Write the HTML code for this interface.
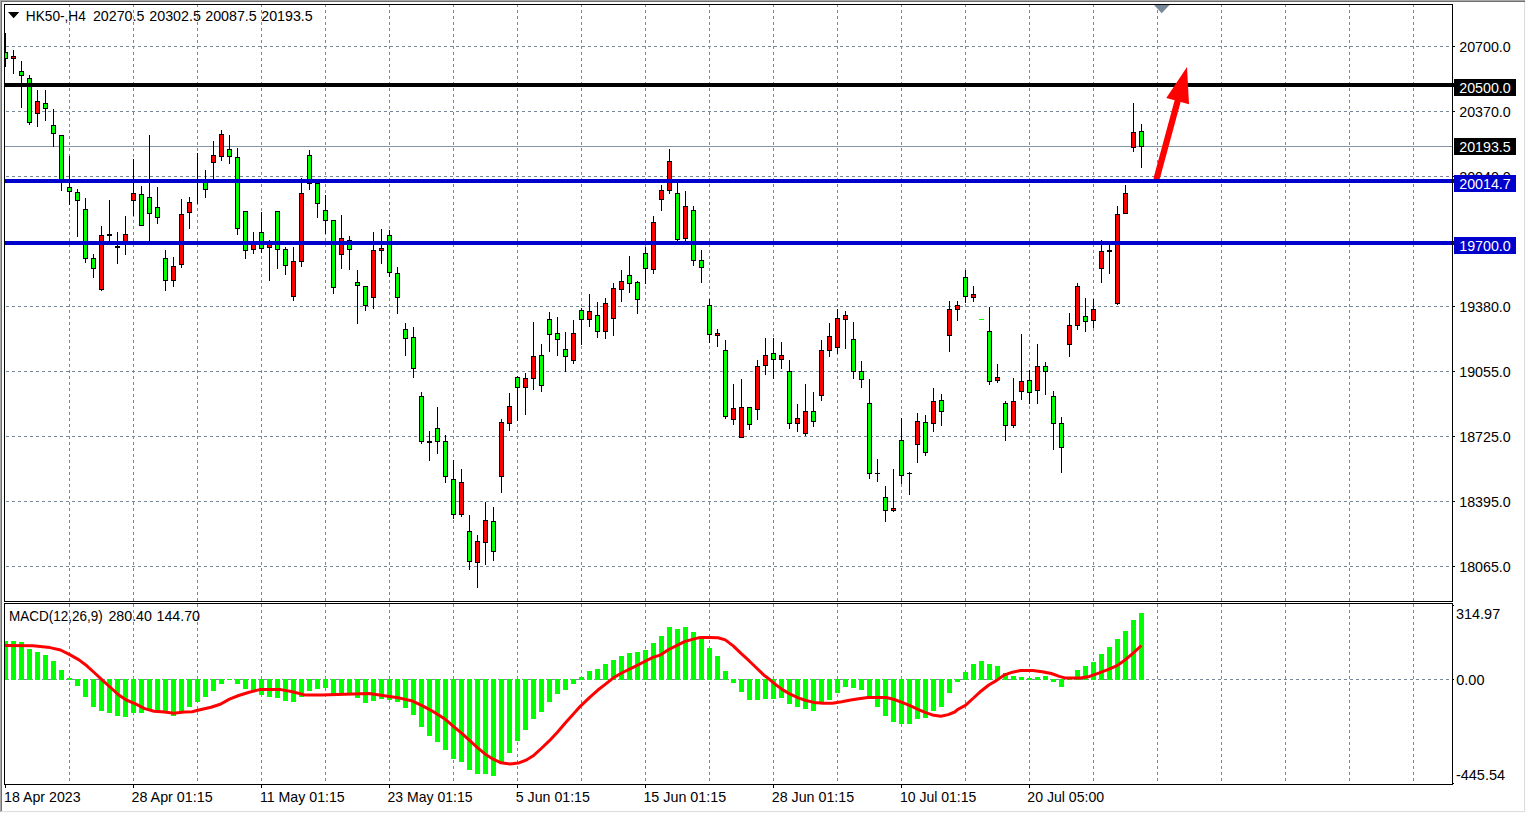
<!DOCTYPE html>
<html><head><meta charset="utf-8"><title>HK50-,H4</title>
<style>
html,body{margin:0;padding:0;background:#fff;overflow:hidden}
body{width:1526px;height:813px;font-family:"Liberation Sans",sans-serif}
svg{display:block}
</style></head><body>
<svg width="1526" height="813" viewBox="0 0 1526 813"><rect x="0" y="0" width="1526" height="813" fill="#ffffff"/>
<rect x="0" y="0" width="1526" height="1" fill="#a9a9a9"/>
<rect x="0" y="1" width="1526" height="1" fill="#6f6f6f"/>
<rect x="0" y="0" width="1" height="812" fill="#a9a9a9"/>
<rect x="1" y="1" width="1" height="810" fill="#6f6f6f"/>
<rect x="1524" y="2" width="1" height="810" fill="#dedede"/>
<rect x="1525" y="0" width="1" height="813" fill="#fafafa"/>
<rect x="1" y="811" width="1524" height="1" fill="#dedede"/>
<rect x="0" y="812" width="1526" height="1" fill="#fcfcfc"/>
<g stroke="#778899" stroke-width="1" stroke-dasharray="3 3" fill="none">
<path d="M69.5 4V602"/>
<path d="M69.5 604V784"/>
<path d="M133.5 4V602"/>
<path d="M133.5 604V784"/>
<path d="M197.5 4V602"/>
<path d="M197.5 604V784"/>
<path d="M261.5 4V602"/>
<path d="M261.5 604V784"/>
<path d="M325.5 4V602"/>
<path d="M325.5 604V784"/>
<path d="M389.5 4V602"/>
<path d="M389.5 604V784"/>
<path d="M453.5 4V602"/>
<path d="M453.5 604V784"/>
<path d="M517.5 4V602"/>
<path d="M517.5 604V784"/>
<path d="M581.5 4V602"/>
<path d="M581.5 604V784"/>
<path d="M645.5 4V602"/>
<path d="M645.5 604V784"/>
<path d="M709.5 4V602"/>
<path d="M709.5 604V784"/>
<path d="M773.5 4V602"/>
<path d="M773.5 604V784"/>
<path d="M837.5 4V602"/>
<path d="M837.5 604V784"/>
<path d="M901.5 4V602"/>
<path d="M901.5 604V784"/>
<path d="M965.5 4V602"/>
<path d="M965.5 604V784"/>
<path d="M1029.5 4V602"/>
<path d="M1029.5 604V784"/>
<path d="M1093.5 4V602"/>
<path d="M1093.5 604V784"/>
<path d="M1157.5 4V602"/>
<path d="M1157.5 604V784"/>
<path d="M1221.5 4V602"/>
<path d="M1221.5 604V784"/>
<path d="M1285.5 4V602"/>
<path d="M1285.5 604V784"/>
<path d="M1349.5 4V602"/>
<path d="M1349.5 604V784"/>
<path d="M1413.5 4V602"/>
<path d="M1413.5 604V784"/>
<path d="M6 46.5H1452"/>
<path d="M6 111.5H1452"/>
<path d="M6 176.5H1452"/>
<path d="M6 241.5H1452"/>
<path d="M6 306.5H1452"/>
<path d="M6 371.5H1452"/>
<path d="M6 436.5H1452"/>
<path d="M6 501.5H1452"/>
<path d="M6 566.5H1452"/>
<path d="M6 679.5H1452"/>
</g>
<rect x="5" y="146" width="1447" height="1" fill="#8494a4"/>
<g fill="#00ff00">
<rect x="5" y="641" width="3" height="39"/>
<rect x="11" y="641" width="5" height="39"/>
<rect x="19" y="642" width="5" height="38"/>
<rect x="27" y="649" width="5" height="31"/>
<rect x="35" y="652" width="5" height="28"/>
<rect x="43" y="655" width="5" height="25"/>
<rect x="51" y="661" width="5" height="19"/>
<rect x="59" y="670" width="5" height="10"/>
<rect x="67" y="678" width="5" height="2"/>
<rect x="75" y="679" width="5" height="7"/>
<rect x="83" y="679" width="5" height="18"/>
<rect x="91" y="679" width="5" height="28"/>
<rect x="99" y="679" width="5" height="32"/>
<rect x="107" y="679" width="5" height="34"/>
<rect x="115" y="679" width="5" height="37"/>
<rect x="123" y="679" width="5" height="38"/>
<rect x="131" y="679" width="5" height="34"/>
<rect x="139" y="679" width="5" height="34"/>
<rect x="147" y="679" width="5" height="32"/>
<rect x="155" y="679" width="5" height="32"/>
<rect x="163" y="679" width="5" height="33"/>
<rect x="171" y="679" width="5" height="37"/>
<rect x="179" y="679" width="5" height="33"/>
<rect x="187" y="679" width="5" height="28"/>
<rect x="195" y="679" width="5" height="23"/>
<rect x="203" y="679" width="5" height="18"/>
<rect x="211" y="679" width="5" height="12"/>
<rect x="219" y="679" width="5" height="5"/>
<rect x="227" y="679" width="5" height="1"/>
<rect x="235" y="679" width="5" height="5"/>
<rect x="243" y="679" width="5" height="10"/>
<rect x="251" y="679" width="5" height="11"/>
<rect x="259" y="679" width="5" height="16"/>
<rect x="267" y="679" width="5" height="18"/>
<rect x="275" y="679" width="5" height="19"/>
<rect x="283" y="679" width="5" height="22"/>
<rect x="291" y="679" width="5" height="23"/>
<rect x="299" y="679" width="5" height="18"/>
<rect x="307" y="679" width="5" height="12"/>
<rect x="315" y="679" width="5" height="10"/>
<rect x="323" y="679" width="5" height="9"/>
<rect x="331" y="679" width="5" height="15"/>
<rect x="339" y="679" width="5" height="15"/>
<rect x="347" y="679" width="5" height="14"/>
<rect x="355" y="679" width="5" height="19"/>
<rect x="363" y="679" width="5" height="24"/>
<rect x="371" y="679" width="5" height="22"/>
<rect x="379" y="679" width="5" height="20"/>
<rect x="387" y="679" width="5" height="21"/>
<rect x="395" y="679" width="5" height="23"/>
<rect x="403" y="679" width="5" height="29"/>
<rect x="411" y="679" width="5" height="36"/>
<rect x="419" y="679" width="5" height="48"/>
<rect x="427" y="679" width="5" height="57"/>
<rect x="435" y="679" width="5" height="63"/>
<rect x="443" y="679" width="5" height="71"/>
<rect x="451" y="679" width="5" height="80"/>
<rect x="459" y="679" width="5" height="83"/>
<rect x="467" y="679" width="5" height="91"/>
<rect x="475" y="679" width="5" height="95"/>
<rect x="483" y="679" width="5" height="95"/>
<rect x="491" y="679" width="5" height="97"/>
<rect x="499" y="679" width="5" height="84"/>
<rect x="507" y="679" width="5" height="74"/>
<rect x="515" y="679" width="5" height="62"/>
<rect x="523" y="679" width="5" height="51"/>
<rect x="531" y="679" width="5" height="40"/>
<rect x="539" y="679" width="5" height="33"/>
<rect x="547" y="679" width="5" height="23"/>
<rect x="555" y="679" width="5" height="15"/>
<rect x="563" y="679" width="5" height="11"/>
<rect x="571" y="679" width="5" height="5"/>
<rect x="579" y="677" width="5" height="3"/>
<rect x="587" y="671" width="5" height="9"/>
<rect x="595" y="669" width="5" height="11"/>
<rect x="603" y="664" width="5" height="16"/>
<rect x="611" y="660" width="5" height="20"/>
<rect x="619" y="656" width="5" height="24"/>
<rect x="627" y="653" width="5" height="27"/>
<rect x="635" y="652" width="5" height="28"/>
<rect x="643" y="650" width="5" height="30"/>
<rect x="651" y="643" width="5" height="37"/>
<rect x="659" y="636" width="5" height="44"/>
<rect x="667" y="627" width="5" height="53"/>
<rect x="675" y="629" width="5" height="51"/>
<rect x="683" y="627" width="5" height="53"/>
<rect x="691" y="632" width="5" height="48"/>
<rect x="699" y="638" width="5" height="42"/>
<rect x="707" y="648" width="5" height="32"/>
<rect x="715" y="656" width="5" height="24"/>
<rect x="723" y="671" width="5" height="9"/>
<rect x="731" y="679" width="5" height="4"/>
<rect x="739" y="679" width="5" height="13"/>
<rect x="747" y="679" width="5" height="21"/>
<rect x="755" y="679" width="5" height="21"/>
<rect x="763" y="679" width="5" height="20"/>
<rect x="771" y="679" width="5" height="20"/>
<rect x="779" y="679" width="5" height="19"/>
<rect x="787" y="679" width="5" height="25"/>
<rect x="795" y="679" width="5" height="28"/>
<rect x="803" y="679" width="5" height="30"/>
<rect x="811" y="679" width="5" height="32"/>
<rect x="819" y="679" width="5" height="23"/>
<rect x="827" y="679" width="5" height="21"/>
<rect x="835" y="679" width="5" height="14"/>
<rect x="843" y="679" width="5" height="8"/>
<rect x="851" y="679" width="5" height="9"/>
<rect x="859" y="679" width="5" height="11"/>
<rect x="867" y="679" width="5" height="19"/>
<rect x="875" y="679" width="5" height="28"/>
<rect x="883" y="679" width="5" height="37"/>
<rect x="891" y="679" width="5" height="43"/>
<rect x="899" y="679" width="5" height="45"/>
<rect x="907" y="679" width="5" height="45"/>
<rect x="915" y="679" width="5" height="40"/>
<rect x="923" y="679" width="5" height="39"/>
<rect x="931" y="679" width="5" height="32"/>
<rect x="939" y="679" width="5" height="28"/>
<rect x="947" y="679" width="5" height="14"/>
<rect x="955" y="679" width="5" height="3"/>
<rect x="963" y="672" width="5" height="8"/>
<rect x="971" y="664" width="5" height="16"/>
<rect x="979" y="661" width="5" height="19"/>
<rect x="987" y="664" width="5" height="16"/>
<rect x="995" y="666" width="5" height="14"/>
<rect x="1003" y="673" width="5" height="7"/>
<rect x="1011" y="676" width="5" height="4"/>
<rect x="1019" y="677" width="5" height="3"/>
<rect x="1027" y="678" width="5" height="2"/>
<rect x="1035" y="677" width="5" height="3"/>
<rect x="1043" y="676" width="5" height="4"/>
<rect x="1051" y="679" width="5" height="3"/>
<rect x="1059" y="679" width="5" height="8"/>
<rect x="1067" y="678" width="5" height="2"/>
<rect x="1075" y="670" width="5" height="10"/>
<rect x="1083" y="666" width="5" height="14"/>
<rect x="1091" y="662" width="5" height="18"/>
<rect x="1099" y="654" width="5" height="26"/>
<rect x="1107" y="647" width="5" height="33"/>
<rect x="1115" y="639" width="5" height="41"/>
<rect x="1123" y="631" width="5" height="49"/>
<rect x="1131" y="620" width="5" height="60"/>
<rect x="1139" y="613" width="5" height="67"/>
</g>
<polyline points="5.0,645.4 33.0,645.7 50.0,647.6 60.5,650.0 69.7,654.6 79.0,659.9 86.8,665.8 94.7,673.0 102.6,680.3 110.5,687.5 118.4,694.7 126.3,700.0 135.5,703.9 144.7,708.6 154.0,711.2 164.5,712.1 173.7,713.2 184.2,712.1 192.1,711.8 197.9,710.3 211.0,707.2 220.3,704.3 229.5,699.1 238.7,695.5 249.2,692.2 259.7,689.6 280.8,689.6 292.6,691.8 304.5,694.9 321.6,695.1 345.3,694.2 369.0,693.4 379.5,695.1 389.5,696.6 399.7,698.1 411.6,700.7 422.1,705.6 432.6,711.2 444.5,718.7 453.7,726.6 461.6,733.2 469.5,740.4 477.4,747.7 485.3,754.2 493.2,759.2 501.0,762.8 510.3,764.1 518.2,763.1 526.0,760.2 534.0,755.2 541.8,748.0 549.7,740.4 557.6,731.9 565.5,722.7 573.4,714.1 580.5,706.1 589.7,697.3 597.6,690.3 605.5,684.1 613.4,677.8 622.6,672.5 633.2,667.3 643.7,662.0 652.9,657.4 660.8,654.8 668.7,649.5 676.6,645.6 684.5,641.6 692.4,639.4 700.3,637.4 709.5,637.4 718.0,637.7 725.3,639.9 733.2,645.9 741.0,653.4 749.0,660.7 756.8,668.3 764.7,675.8 770.0,679.8 774.5,683.7 782.4,689.6 790.3,694.2 798.2,697.9 806.0,700.5 814.0,702.4 823.2,703.2 832.4,703.2 841.6,701.8 850.8,700.1 858.7,698.8 867.9,697.5 886.3,697.5 894.2,699.5 902.1,702.4 910.0,705.7 917.9,709.3 925.8,712.6 933.7,715.3 940.9,716.3 948.2,714.6 954.7,712.0 957.9,709.3 965.4,705.4 973.0,698.5 980.9,691.2 988.8,685.0 996.7,680.4 1004.6,674.8 1012.5,672.2 1020.4,670.5 1032.9,670.5 1042.1,671.8 1051.3,673.5 1059.2,676.4 1065.8,678.1 1080.3,678.1 1089.5,676.4 1098.7,673.1 1107.9,669.6 1117.1,665.6 1125.0,660.0 1132.9,653.4 1141.4,645.5" fill="none" stroke="#ff0000" stroke-width="3" stroke-linejoin="round" stroke-linecap="butt"/>
<g shape-rendering="crispEdges">
<rect x="5" y="33" width="1" height="34" fill="#000"/>
<rect x="5" y="52" width="3" height="7" fill="#000"/>
<rect x="5" y="53" width="2" height="5" fill="#00ff00"/>
<rect x="13" y="50" width="1" height="24" fill="#000"/>
<rect x="11" y="56" width="5" height="3" fill="#000"/>
<rect x="12" y="57" width="3" height="1" fill="#ff0000"/>
<rect x="21" y="61" width="1" height="47" fill="#000"/>
<rect x="19" y="71" width="5" height="5" fill="#000"/>
<rect x="20" y="72" width="3" height="3" fill="#00ff00"/>
<rect x="29" y="75" width="1" height="50" fill="#000"/>
<rect x="27" y="78" width="5" height="45" fill="#000"/>
<rect x="28" y="79" width="3" height="43" fill="#00ff00"/>
<rect x="37" y="90" width="1" height="37" fill="#000"/>
<rect x="35" y="101" width="5" height="13" fill="#000"/>
<rect x="36" y="102" width="3" height="11" fill="#ff0000"/>
<rect x="45" y="90" width="1" height="31" fill="#000"/>
<rect x="43" y="103" width="5" height="6" fill="#000"/>
<rect x="44" y="104" width="3" height="4" fill="#00ff00"/>
<rect x="53" y="109" width="1" height="38" fill="#000"/>
<rect x="51" y="125" width="5" height="9" fill="#000"/>
<rect x="52" y="126" width="3" height="7" fill="#00ff00"/>
<rect x="61" y="135" width="1" height="56" fill="#000"/>
<rect x="59" y="135" width="5" height="48" fill="#000"/>
<rect x="60" y="136" width="3" height="46" fill="#00ff00"/>
<rect x="69" y="156" width="1" height="49" fill="#000"/>
<rect x="67" y="187" width="5" height="5" fill="#000"/>
<rect x="68" y="188" width="3" height="3" fill="#00ff00"/>
<rect x="77" y="189" width="1" height="48" fill="#000"/>
<rect x="75" y="192" width="5" height="9" fill="#000"/>
<rect x="76" y="193" width="3" height="7" fill="#00ff00"/>
<rect x="85" y="198" width="1" height="65" fill="#000"/>
<rect x="83" y="209" width="5" height="50" fill="#000"/>
<rect x="84" y="210" width="3" height="48" fill="#00ff00"/>
<rect x="93" y="254" width="1" height="24" fill="#000"/>
<rect x="91" y="258" width="5" height="11" fill="#000"/>
<rect x="92" y="259" width="3" height="9" fill="#00ff00"/>
<rect x="101" y="226" width="1" height="65" fill="#000"/>
<rect x="99" y="235" width="5" height="55" fill="#000"/>
<rect x="100" y="236" width="3" height="53" fill="#ff0000"/>
<rect x="109" y="200" width="1" height="41" fill="#000"/>
<rect x="107" y="234" width="5" height="2" fill="#000"/>
<rect x="117" y="232" width="1" height="32" fill="#000"/>
<rect x="115" y="246" width="5" height="2" fill="#000"/>
<rect x="125" y="216" width="1" height="39" fill="#000"/>
<rect x="123" y="234" width="5" height="11" fill="#000"/>
<rect x="124" y="235" width="3" height="9" fill="#ff0000"/>
<rect x="133" y="159" width="1" height="57" fill="#000"/>
<rect x="131" y="193" width="5" height="8" fill="#000"/>
<rect x="132" y="194" width="3" height="6" fill="#ff0000"/>
<rect x="141" y="186" width="1" height="40" fill="#000"/>
<rect x="139" y="194" width="5" height="32" fill="#000"/>
<rect x="140" y="195" width="3" height="30" fill="#00ff00"/>
<rect x="149" y="135" width="1" height="106" fill="#000"/>
<rect x="147" y="197" width="5" height="17" fill="#000"/>
<rect x="148" y="198" width="3" height="15" fill="#00ff00"/>
<rect x="157" y="187" width="1" height="37" fill="#000"/>
<rect x="155" y="207" width="5" height="11" fill="#000"/>
<rect x="156" y="208" width="3" height="9" fill="#00ff00"/>
<rect x="165" y="250" width="1" height="41" fill="#000"/>
<rect x="163" y="258" width="5" height="23" fill="#000"/>
<rect x="164" y="259" width="3" height="21" fill="#00ff00"/>
<rect x="173" y="257" width="1" height="30" fill="#000"/>
<rect x="171" y="266" width="5" height="15" fill="#000"/>
<rect x="172" y="267" width="3" height="13" fill="#ff0000"/>
<rect x="181" y="199" width="1" height="69" fill="#000"/>
<rect x="179" y="214" width="5" height="51" fill="#000"/>
<rect x="180" y="215" width="3" height="49" fill="#ff0000"/>
<rect x="189" y="197" width="1" height="32" fill="#000"/>
<rect x="187" y="202" width="5" height="11" fill="#000"/>
<rect x="188" y="203" width="3" height="9" fill="#ff0000"/>
<rect x="197" y="153" width="1" height="51" fill="#000"/>
<rect x="205" y="170" width="1" height="28" fill="#000"/>
<rect x="203" y="181" width="5" height="9" fill="#000"/>
<rect x="204" y="182" width="3" height="7" fill="#00ff00"/>
<rect x="213" y="141" width="1" height="40" fill="#000"/>
<rect x="211" y="155" width="5" height="8" fill="#000"/>
<rect x="212" y="156" width="3" height="6" fill="#ff0000"/>
<rect x="221" y="130" width="1" height="31" fill="#000"/>
<rect x="219" y="134" width="5" height="23" fill="#000"/>
<rect x="220" y="135" width="3" height="21" fill="#ff0000"/>
<rect x="229" y="135" width="1" height="29" fill="#000"/>
<rect x="227" y="149" width="5" height="8" fill="#000"/>
<rect x="228" y="150" width="3" height="6" fill="#00ff00"/>
<rect x="237" y="148" width="1" height="87" fill="#000"/>
<rect x="235" y="157" width="5" height="72" fill="#000"/>
<rect x="236" y="158" width="3" height="70" fill="#00ff00"/>
<rect x="245" y="211" width="1" height="48" fill="#000"/>
<rect x="243" y="211" width="5" height="40" fill="#000"/>
<rect x="244" y="212" width="3" height="38" fill="#00ff00"/>
<rect x="253" y="232" width="1" height="22" fill="#000"/>
<rect x="251" y="243" width="5" height="7" fill="#000"/>
<rect x="252" y="244" width="3" height="5" fill="#ff0000"/>
<rect x="261" y="212" width="1" height="41" fill="#000"/>
<rect x="259" y="232" width="5" height="17" fill="#000"/>
<rect x="260" y="233" width="3" height="15" fill="#00ff00"/>
<rect x="269" y="240" width="1" height="41" fill="#000"/>
<rect x="267" y="243" width="5" height="5" fill="#000"/>
<rect x="268" y="244" width="3" height="3" fill="#ff0000"/>
<rect x="277" y="211" width="1" height="58" fill="#000"/>
<rect x="275" y="211" width="5" height="39" fill="#000"/>
<rect x="276" y="212" width="3" height="37" fill="#00ff00"/>
<rect x="285" y="247" width="1" height="28" fill="#000"/>
<rect x="283" y="249" width="5" height="17" fill="#000"/>
<rect x="284" y="250" width="3" height="15" fill="#00ff00"/>
<rect x="293" y="247" width="1" height="54" fill="#000"/>
<rect x="291" y="261" width="5" height="36" fill="#000"/>
<rect x="292" y="262" width="3" height="34" fill="#ff0000"/>
<rect x="301" y="178" width="1" height="89" fill="#000"/>
<rect x="299" y="193" width="5" height="69" fill="#000"/>
<rect x="300" y="194" width="3" height="67" fill="#ff0000"/>
<rect x="309" y="150" width="1" height="40" fill="#000"/>
<rect x="307" y="155" width="5" height="29" fill="#000"/>
<rect x="308" y="156" width="3" height="27" fill="#00ff00"/>
<rect x="317" y="183" width="1" height="35" fill="#000"/>
<rect x="315" y="183" width="5" height="21" fill="#000"/>
<rect x="316" y="184" width="3" height="19" fill="#00ff00"/>
<rect x="325" y="195" width="1" height="39" fill="#000"/>
<rect x="323" y="210" width="5" height="11" fill="#000"/>
<rect x="324" y="211" width="3" height="9" fill="#00ff00"/>
<rect x="333" y="220" width="1" height="74" fill="#000"/>
<rect x="331" y="220" width="5" height="68" fill="#000"/>
<rect x="332" y="221" width="3" height="66" fill="#00ff00"/>
<rect x="341" y="215" width="1" height="54" fill="#000"/>
<rect x="339" y="238" width="5" height="17" fill="#000"/>
<rect x="340" y="239" width="3" height="15" fill="#ff0000"/>
<rect x="349" y="236" width="1" height="34" fill="#000"/>
<rect x="347" y="240" width="5" height="10" fill="#000"/>
<rect x="348" y="241" width="3" height="8" fill="#00ff00"/>
<rect x="357" y="270" width="1" height="54" fill="#000"/>
<rect x="355" y="282" width="5" height="4" fill="#000"/>
<rect x="356" y="283" width="3" height="2" fill="#00ff00"/>
<rect x="365" y="286" width="1" height="25" fill="#000"/>
<rect x="363" y="286" width="5" height="20" fill="#000"/>
<rect x="364" y="287" width="3" height="18" fill="#00ff00"/>
<rect x="373" y="232" width="1" height="77" fill="#000"/>
<rect x="371" y="250" width="5" height="48" fill="#000"/>
<rect x="372" y="251" width="3" height="46" fill="#ff0000"/>
<rect x="381" y="229" width="1" height="35" fill="#000"/>
<rect x="379" y="248" width="5" height="3" fill="#000"/>
<rect x="380" y="249" width="3" height="1" fill="#ff0000"/>
<rect x="389" y="230" width="1" height="47" fill="#000"/>
<rect x="387" y="235" width="5" height="38" fill="#000"/>
<rect x="388" y="236" width="3" height="36" fill="#00ff00"/>
<rect x="397" y="267" width="1" height="47" fill="#000"/>
<rect x="395" y="273" width="5" height="25" fill="#000"/>
<rect x="396" y="274" width="3" height="23" fill="#00ff00"/>
<rect x="405" y="323" width="1" height="33" fill="#000"/>
<rect x="403" y="329" width="5" height="10" fill="#000"/>
<rect x="404" y="330" width="3" height="8" fill="#00ff00"/>
<rect x="413" y="327" width="1" height="51" fill="#000"/>
<rect x="411" y="337" width="5" height="32" fill="#000"/>
<rect x="412" y="338" width="3" height="30" fill="#00ff00"/>
<rect x="421" y="392" width="1" height="52" fill="#000"/>
<rect x="419" y="396" width="5" height="46" fill="#000"/>
<rect x="420" y="397" width="3" height="44" fill="#00ff00"/>
<rect x="429" y="431" width="1" height="30" fill="#000"/>
<rect x="427" y="441" width="5" height="2" fill="#000"/>
<rect x="437" y="407" width="1" height="47" fill="#000"/>
<rect x="435" y="428" width="5" height="14" fill="#000"/>
<rect x="436" y="429" width="3" height="12" fill="#00ff00"/>
<rect x="445" y="435" width="1" height="48" fill="#000"/>
<rect x="443" y="441" width="5" height="36" fill="#000"/>
<rect x="444" y="442" width="3" height="34" fill="#00ff00"/>
<rect x="453" y="460" width="1" height="59" fill="#000"/>
<rect x="451" y="479" width="5" height="36" fill="#000"/>
<rect x="452" y="480" width="3" height="34" fill="#00ff00"/>
<rect x="461" y="469" width="1" height="48" fill="#000"/>
<rect x="459" y="482" width="5" height="33" fill="#000"/>
<rect x="460" y="483" width="3" height="31" fill="#ff0000"/>
<rect x="469" y="515" width="1" height="55" fill="#000"/>
<rect x="467" y="531" width="5" height="31" fill="#000"/>
<rect x="468" y="532" width="3" height="29" fill="#00ff00"/>
<rect x="477" y="535" width="1" height="53" fill="#000"/>
<rect x="475" y="541" width="5" height="22" fill="#000"/>
<rect x="476" y="542" width="3" height="20" fill="#ff0000"/>
<rect x="485" y="502" width="1" height="63" fill="#000"/>
<rect x="483" y="520" width="5" height="23" fill="#000"/>
<rect x="484" y="521" width="3" height="21" fill="#ff0000"/>
<rect x="493" y="507" width="1" height="54" fill="#000"/>
<rect x="491" y="521" width="5" height="31" fill="#000"/>
<rect x="492" y="522" width="3" height="29" fill="#00ff00"/>
<rect x="501" y="419" width="1" height="74" fill="#000"/>
<rect x="499" y="422" width="5" height="55" fill="#000"/>
<rect x="500" y="423" width="3" height="53" fill="#ff0000"/>
<rect x="509" y="393" width="1" height="38" fill="#000"/>
<rect x="507" y="406" width="5" height="18" fill="#000"/>
<rect x="508" y="407" width="3" height="16" fill="#ff0000"/>
<rect x="517" y="376" width="1" height="45" fill="#000"/>
<rect x="515" y="377" width="5" height="11" fill="#000"/>
<rect x="516" y="378" width="3" height="9" fill="#00ff00"/>
<rect x="525" y="373" width="1" height="42" fill="#000"/>
<rect x="523" y="378" width="5" height="10" fill="#000"/>
<rect x="524" y="379" width="3" height="8" fill="#ff0000"/>
<rect x="533" y="322" width="1" height="68" fill="#000"/>
<rect x="531" y="356" width="5" height="23" fill="#000"/>
<rect x="532" y="357" width="3" height="21" fill="#ff0000"/>
<rect x="541" y="344" width="1" height="48" fill="#000"/>
<rect x="539" y="355" width="5" height="31" fill="#000"/>
<rect x="540" y="356" width="3" height="29" fill="#00ff00"/>
<rect x="549" y="312" width="1" height="40" fill="#000"/>
<rect x="547" y="319" width="5" height="16" fill="#000"/>
<rect x="548" y="320" width="3" height="14" fill="#00ff00"/>
<rect x="557" y="317" width="1" height="39" fill="#000"/>
<rect x="555" y="333" width="5" height="7" fill="#000"/>
<rect x="556" y="334" width="3" height="5" fill="#00ff00"/>
<rect x="565" y="332" width="1" height="40" fill="#000"/>
<rect x="563" y="349" width="5" height="8" fill="#000"/>
<rect x="564" y="350" width="3" height="6" fill="#00ff00"/>
<rect x="573" y="320" width="1" height="44" fill="#000"/>
<rect x="571" y="333" width="5" height="28" fill="#000"/>
<rect x="572" y="334" width="3" height="26" fill="#ff0000"/>
<rect x="581" y="308" width="1" height="37" fill="#000"/>
<rect x="579" y="310" width="5" height="10" fill="#000"/>
<rect x="580" y="311" width="3" height="8" fill="#00ff00"/>
<rect x="589" y="294" width="1" height="33" fill="#000"/>
<rect x="587" y="311" width="5" height="9" fill="#000"/>
<rect x="588" y="312" width="3" height="7" fill="#ff0000"/>
<rect x="597" y="302" width="1" height="36" fill="#000"/>
<rect x="595" y="315" width="5" height="17" fill="#000"/>
<rect x="596" y="316" width="3" height="15" fill="#00ff00"/>
<rect x="605" y="298" width="1" height="41" fill="#000"/>
<rect x="603" y="303" width="5" height="29" fill="#000"/>
<rect x="604" y="304" width="3" height="27" fill="#ff0000"/>
<rect x="613" y="283" width="1" height="53" fill="#000"/>
<rect x="611" y="288" width="5" height="31" fill="#000"/>
<rect x="612" y="289" width="3" height="29" fill="#ff0000"/>
<rect x="621" y="270" width="1" height="32" fill="#000"/>
<rect x="619" y="281" width="5" height="9" fill="#000"/>
<rect x="620" y="282" width="3" height="7" fill="#ff0000"/>
<rect x="629" y="256" width="1" height="37" fill="#000"/>
<rect x="627" y="275" width="5" height="9" fill="#000"/>
<rect x="628" y="276" width="3" height="7" fill="#00ff00"/>
<rect x="637" y="281" width="1" height="33" fill="#000"/>
<rect x="635" y="282" width="5" height="18" fill="#000"/>
<rect x="636" y="283" width="3" height="16" fill="#00ff00"/>
<rect x="645" y="247" width="1" height="37" fill="#000"/>
<rect x="643" y="253" width="5" height="16" fill="#000"/>
<rect x="644" y="254" width="3" height="14" fill="#00ff00"/>
<rect x="653" y="216" width="1" height="58" fill="#000"/>
<rect x="651" y="222" width="5" height="48" fill="#000"/>
<rect x="652" y="223" width="3" height="46" fill="#ff0000"/>
<rect x="661" y="185" width="1" height="26" fill="#000"/>
<rect x="659" y="190" width="5" height="10" fill="#000"/>
<rect x="660" y="191" width="3" height="8" fill="#ff0000"/>
<rect x="669" y="149" width="1" height="45" fill="#000"/>
<rect x="667" y="161" width="5" height="30" fill="#000"/>
<rect x="668" y="162" width="3" height="28" fill="#ff0000"/>
<rect x="677" y="181" width="1" height="61" fill="#000"/>
<rect x="675" y="193" width="5" height="47" fill="#000"/>
<rect x="676" y="194" width="3" height="45" fill="#00ff00"/>
<rect x="685" y="191" width="1" height="51" fill="#000"/>
<rect x="683" y="206" width="5" height="33" fill="#000"/>
<rect x="684" y="207" width="3" height="31" fill="#ff0000"/>
<rect x="693" y="206" width="1" height="60" fill="#000"/>
<rect x="691" y="210" width="5" height="51" fill="#000"/>
<rect x="692" y="211" width="3" height="49" fill="#00ff00"/>
<rect x="701" y="250" width="1" height="33" fill="#000"/>
<rect x="699" y="260" width="5" height="8" fill="#000"/>
<rect x="700" y="261" width="3" height="6" fill="#00ff00"/>
<rect x="709" y="299" width="1" height="44" fill="#000"/>
<rect x="707" y="305" width="5" height="30" fill="#000"/>
<rect x="708" y="306" width="3" height="28" fill="#00ff00"/>
<rect x="717" y="329" width="1" height="18" fill="#000"/>
<rect x="715" y="333" width="5" height="3" fill="#000"/>
<rect x="716" y="334" width="3" height="1" fill="#ff0000"/>
<rect x="725" y="340" width="1" height="79" fill="#000"/>
<rect x="723" y="350" width="5" height="67" fill="#000"/>
<rect x="724" y="351" width="3" height="65" fill="#00ff00"/>
<rect x="733" y="384" width="1" height="41" fill="#000"/>
<rect x="731" y="408" width="5" height="12" fill="#000"/>
<rect x="732" y="409" width="3" height="10" fill="#ff0000"/>
<rect x="741" y="379" width="1" height="59" fill="#000"/>
<rect x="739" y="407" width="5" height="31" fill="#000"/>
<rect x="740" y="408" width="3" height="29" fill="#ff0000"/>
<rect x="749" y="407" width="1" height="23" fill="#000"/>
<rect x="747" y="407" width="5" height="18" fill="#000"/>
<rect x="748" y="408" width="3" height="16" fill="#00ff00"/>
<rect x="757" y="360" width="1" height="60" fill="#000"/>
<rect x="755" y="366" width="5" height="44" fill="#000"/>
<rect x="756" y="367" width="3" height="42" fill="#ff0000"/>
<rect x="765" y="338" width="1" height="37" fill="#000"/>
<rect x="763" y="355" width="5" height="11" fill="#000"/>
<rect x="764" y="356" width="3" height="9" fill="#ff0000"/>
<rect x="773" y="338" width="1" height="41" fill="#000"/>
<rect x="771" y="353" width="5" height="7" fill="#000"/>
<rect x="772" y="354" width="3" height="5" fill="#00ff00"/>
<rect x="781" y="342" width="1" height="27" fill="#000"/>
<rect x="779" y="355" width="5" height="5" fill="#000"/>
<rect x="780" y="356" width="3" height="3" fill="#ff0000"/>
<rect x="789" y="360" width="1" height="69" fill="#000"/>
<rect x="787" y="371" width="5" height="53" fill="#000"/>
<rect x="788" y="372" width="3" height="51" fill="#00ff00"/>
<rect x="797" y="404" width="1" height="28" fill="#000"/>
<rect x="795" y="418" width="5" height="6" fill="#000"/>
<rect x="796" y="419" width="3" height="4" fill="#ff0000"/>
<rect x="805" y="384" width="1" height="52" fill="#000"/>
<rect x="803" y="411" width="5" height="23" fill="#000"/>
<rect x="804" y="412" width="3" height="21" fill="#ff0000"/>
<rect x="813" y="392" width="1" height="35" fill="#000"/>
<rect x="811" y="411" width="5" height="11" fill="#000"/>
<rect x="812" y="412" width="3" height="9" fill="#00ff00"/>
<rect x="821" y="340" width="1" height="61" fill="#000"/>
<rect x="819" y="350" width="5" height="46" fill="#000"/>
<rect x="820" y="351" width="3" height="44" fill="#ff0000"/>
<rect x="829" y="323" width="1" height="34" fill="#000"/>
<rect x="827" y="336" width="5" height="15" fill="#000"/>
<rect x="828" y="337" width="3" height="13" fill="#ff0000"/>
<rect x="837" y="309" width="1" height="45" fill="#000"/>
<rect x="835" y="318" width="5" height="30" fill="#000"/>
<rect x="836" y="319" width="3" height="28" fill="#ff0000"/>
<rect x="845" y="311" width="1" height="38" fill="#000"/>
<rect x="843" y="315" width="5" height="5" fill="#000"/>
<rect x="844" y="316" width="3" height="3" fill="#ff0000"/>
<rect x="853" y="322" width="1" height="57" fill="#000"/>
<rect x="851" y="339" width="5" height="33" fill="#000"/>
<rect x="852" y="340" width="3" height="31" fill="#00ff00"/>
<rect x="861" y="361" width="1" height="27" fill="#000"/>
<rect x="859" y="371" width="5" height="9" fill="#000"/>
<rect x="860" y="372" width="3" height="7" fill="#00ff00"/>
<rect x="869" y="379" width="1" height="100" fill="#000"/>
<rect x="867" y="403" width="5" height="71" fill="#000"/>
<rect x="868" y="404" width="3" height="69" fill="#00ff00"/>
<rect x="877" y="459" width="1" height="23" fill="#000"/>
<rect x="875" y="473" width="5" height="1" fill="#000"/>
<rect x="885" y="486" width="1" height="36" fill="#000"/>
<rect x="883" y="497" width="5" height="14" fill="#000"/>
<rect x="884" y="498" width="3" height="12" fill="#00ff00"/>
<rect x="893" y="469" width="1" height="43" fill="#000"/>
<rect x="891" y="508" width="5" height="3" fill="#000"/>
<rect x="892" y="509" width="3" height="1" fill="#ff0000"/>
<rect x="901" y="418" width="1" height="66" fill="#000"/>
<rect x="899" y="440" width="5" height="36" fill="#000"/>
<rect x="900" y="441" width="3" height="34" fill="#00ff00"/>
<rect x="909" y="472" width="1" height="23" fill="#000"/>
<rect x="907" y="473" width="5" height="1" fill="#000"/>
<rect x="917" y="413" width="1" height="50" fill="#000"/>
<rect x="915" y="421" width="5" height="24" fill="#000"/>
<rect x="916" y="422" width="3" height="22" fill="#ff0000"/>
<rect x="925" y="415" width="1" height="41" fill="#000"/>
<rect x="923" y="422" width="5" height="31" fill="#000"/>
<rect x="924" y="423" width="3" height="29" fill="#00ff00"/>
<rect x="933" y="388" width="1" height="44" fill="#000"/>
<rect x="931" y="401" width="5" height="23" fill="#000"/>
<rect x="932" y="402" width="3" height="21" fill="#ff0000"/>
<rect x="941" y="394" width="1" height="32" fill="#000"/>
<rect x="939" y="400" width="5" height="12" fill="#000"/>
<rect x="940" y="401" width="3" height="10" fill="#00ff00"/>
<rect x="949" y="301" width="1" height="51" fill="#000"/>
<rect x="947" y="309" width="5" height="27" fill="#000"/>
<rect x="948" y="310" width="3" height="25" fill="#ff0000"/>
<rect x="957" y="301" width="1" height="20" fill="#000"/>
<rect x="955" y="305" width="5" height="5" fill="#000"/>
<rect x="956" y="306" width="3" height="3" fill="#ff0000"/>
<rect x="965" y="270" width="1" height="33" fill="#000"/>
<rect x="963" y="277" width="5" height="20" fill="#000"/>
<rect x="964" y="278" width="3" height="18" fill="#00ff00"/>
<rect x="973" y="286" width="1" height="16" fill="#000"/>
<rect x="971" y="294" width="5" height="4" fill="#000"/>
<rect x="972" y="295" width="3" height="2" fill="#ff0000"/>
<rect x="979" y="319" width="5" height="1" fill="#00ff00"/>
<rect x="989" y="307" width="1" height="78" fill="#000"/>
<rect x="987" y="331" width="5" height="51" fill="#000"/>
<rect x="988" y="332" width="3" height="49" fill="#00ff00"/>
<rect x="997" y="364" width="1" height="19" fill="#000"/>
<rect x="995" y="377" width="5" height="4" fill="#000"/>
<rect x="996" y="378" width="3" height="2" fill="#ff0000"/>
<rect x="1005" y="401" width="1" height="40" fill="#000"/>
<rect x="1003" y="403" width="5" height="23" fill="#000"/>
<rect x="1004" y="404" width="3" height="21" fill="#00ff00"/>
<rect x="1013" y="378" width="1" height="50" fill="#000"/>
<rect x="1011" y="401" width="5" height="25" fill="#000"/>
<rect x="1012" y="402" width="3" height="23" fill="#ff0000"/>
<rect x="1021" y="334" width="1" height="66" fill="#000"/>
<rect x="1019" y="381" width="5" height="11" fill="#000"/>
<rect x="1020" y="382" width="3" height="9" fill="#ff0000"/>
<rect x="1029" y="370" width="1" height="34" fill="#000"/>
<rect x="1027" y="380" width="5" height="13" fill="#000"/>
<rect x="1028" y="381" width="3" height="11" fill="#00ff00"/>
<rect x="1037" y="344" width="1" height="60" fill="#000"/>
<rect x="1035" y="366" width="5" height="25" fill="#000"/>
<rect x="1036" y="367" width="3" height="23" fill="#ff0000"/>
<rect x="1045" y="362" width="1" height="33" fill="#000"/>
<rect x="1043" y="366" width="5" height="6" fill="#000"/>
<rect x="1044" y="367" width="3" height="4" fill="#00ff00"/>
<rect x="1053" y="391" width="1" height="59" fill="#000"/>
<rect x="1051" y="396" width="5" height="28" fill="#000"/>
<rect x="1052" y="397" width="3" height="26" fill="#00ff00"/>
<rect x="1061" y="417" width="1" height="56" fill="#000"/>
<rect x="1059" y="423" width="5" height="25" fill="#000"/>
<rect x="1060" y="424" width="3" height="23" fill="#00ff00"/>
<rect x="1069" y="313" width="1" height="44" fill="#000"/>
<rect x="1067" y="325" width="5" height="20" fill="#000"/>
<rect x="1068" y="326" width="3" height="18" fill="#ff0000"/>
<rect x="1077" y="283" width="1" height="47" fill="#000"/>
<rect x="1075" y="286" width="5" height="40" fill="#000"/>
<rect x="1076" y="287" width="3" height="38" fill="#ff0000"/>
<rect x="1085" y="298" width="1" height="34" fill="#000"/>
<rect x="1083" y="316" width="5" height="6" fill="#000"/>
<rect x="1084" y="317" width="3" height="4" fill="#00ff00"/>
<rect x="1093" y="299" width="1" height="29" fill="#000"/>
<rect x="1091" y="309" width="5" height="12" fill="#000"/>
<rect x="1092" y="310" width="3" height="10" fill="#ff0000"/>
<rect x="1101" y="240" width="1" height="43" fill="#000"/>
<rect x="1099" y="251" width="5" height="18" fill="#000"/>
<rect x="1100" y="252" width="3" height="16" fill="#ff0000"/>
<rect x="1109" y="241" width="1" height="33" fill="#000"/>
<rect x="1107" y="250" width="5" height="2" fill="#000"/>
<rect x="1117" y="206" width="1" height="99" fill="#000"/>
<rect x="1115" y="214" width="5" height="90" fill="#000"/>
<rect x="1116" y="215" width="3" height="88" fill="#ff0000"/>
<rect x="1125" y="185" width="1" height="29" fill="#000"/>
<rect x="1123" y="193" width="5" height="21" fill="#000"/>
<rect x="1124" y="194" width="3" height="19" fill="#ff0000"/>
<rect x="1133" y="103" width="1" height="49" fill="#000"/>
<rect x="1131" y="132" width="5" height="16" fill="#000"/>
<rect x="1132" y="133" width="3" height="14" fill="#ff0000"/>
<rect x="1141" y="124" width="1" height="44" fill="#000"/>
<rect x="1139" y="131" width="5" height="16" fill="#000"/>
<rect x="1140" y="132" width="3" height="14" fill="#00ff00"/>
</g>
<rect x="5" y="83" width="1449" height="4" fill="#000"/>
<path d="M1156.9 177.5L1177.4 102" stroke="#ff0000" stroke-width="6.3" stroke-linecap="round" fill="none"/>
<path d="M1187 67L1166.3 98L1189 104.2Z" fill="#ff0000"/>
<rect x="5" y="179" width="1449" height="4" fill="#0000cd"/>
<rect x="5" y="241" width="1449" height="4" fill="#0000cd"/>
<g fill="none" stroke="#000" stroke-width="1" shape-rendering="crispEdges">
<rect x="4.5" y="4.5" width="1448" height="597"/>
<rect x="4.5" y="603.5" width="1448" height="181"/>
</g>
<path d="M1154 5H1169.5L1161.7 13.2Z" fill="#778899"/>
<rect x="1453" y="46" width="2" height="1" fill="#000"/>
<rect x="1453" y="111" width="2" height="1" fill="#000"/>
<rect x="1453" y="176" width="2" height="1" fill="#000"/>
<rect x="1453" y="241" width="2" height="1" fill="#000"/>
<rect x="1453" y="306" width="2" height="1" fill="#000"/>
<rect x="1453" y="371" width="2" height="1" fill="#000"/>
<rect x="1453" y="436" width="2" height="1" fill="#000"/>
<rect x="1453" y="501" width="2" height="1" fill="#000"/>
<rect x="1453" y="566" width="2" height="1" fill="#000"/>
<rect x="1453" y="605" width="1" height="1" fill="#000"/>
<rect x="1453" y="679" width="1" height="1" fill="#000"/>
<rect x="1453" y="783" width="1" height="1" fill="#000"/>
<rect x="5" y="785" width="1" height="3" fill="#000"/>
<rect x="133" y="785" width="1" height="3" fill="#000"/>
<rect x="261" y="785" width="1" height="3" fill="#000"/>
<rect x="389" y="785" width="1" height="3" fill="#000"/>
<rect x="517" y="785" width="1" height="3" fill="#000"/>
<rect x="645" y="785" width="1" height="3" fill="#000"/>
<rect x="773" y="785" width="1" height="3" fill="#000"/>
<rect x="901" y="785" width="1" height="3" fill="#000"/>
<rect x="1029" y="785" width="1" height="3" fill="#000"/>
<g font-family="Liberation Sans, sans-serif" font-size="14px" fill="#000">
<path d="M8 12H19.3L13.65 18.2Z" fill="#000"/>
<rect x="1454" y="79" width="62" height="17" fill="#000"/>
<rect x="1454" y="138" width="62" height="17" fill="#000"/>
<rect x="1454" y="175" width="62" height="17" fill="#0000cd"/>
<rect x="1454" y="237" width="62" height="17" fill="#0000cd"/>
<text transform="translate(1459.2,182) scale(1.019,1)">20040.0</text>
<rect x="1454" y="175" width="62" height="17" fill="#0000cd"/>
<text transform="translate(25.8,21) scale(0.978,1)">HK50-,H4</text>
<text transform="translate(92.9,21) scale(1.019,1)">20270.5</text>
<text transform="translate(149.3,21) scale(1.019,1)">20302.5</text>
<text transform="translate(205.2,21) scale(1.019,1)">20087.5</text>
<text transform="translate(261.2,21) scale(1.019,1)">20193.5</text>
<text transform="translate(8.9,621) scale(0.965,1)">MACD(12,26,9)</text>
<text transform="translate(108.4,621) scale(1.017,1)">280.40</text>
<text transform="translate(156.5,621) scale(1.017,1)">144.70</text>
<text transform="translate(1456.0,619) scale(1.032,1)">314.97</text>
<text transform="translate(1456.3,685) scale(1.035,1)">0.00</text>
<text transform="translate(1455.9,780) scale(1.037,1)">-445.54</text>
<text transform="translate(4.1,802) scale(1.013,1)">18 Apr 2023</text>
<text transform="translate(131.5,802) scale(1.023,1)">28 Apr 01:15</text>
<text transform="translate(259.9,802) scale(1.013,1)">11 May 01:15</text>
<text transform="translate(387.5,802) scale(1.003,1)">23 May 01:15</text>
<text transform="translate(515.8,802) scale(1.014,1)">5 Jun 01:15</text>
<text transform="translate(643.4,802) scale(1.023,1)">15 Jun 01:15</text>
<text transform="translate(771.8,802) scale(1.017,1)">28 Jun 01:15</text>
<text transform="translate(899.9,802) scale(1.003,1)">10 Jul 01:15</text>
<text transform="translate(1027.3,802) scale(1.008,1)">20 Jul 05:00</text>
<text transform="translate(1459.2,52) scale(1.019,1)">20700.0</text>
<text transform="translate(1459.2,117) scale(1.019,1)">20370.0</text>
<text transform="translate(1459.2,312) scale(1.019,1)">19380.0</text>
<text transform="translate(1459.2,377) scale(1.019,1)">19055.0</text>
<text transform="translate(1459.2,442) scale(1.019,1)">18725.0</text>
<text transform="translate(1459.2,507) scale(1.019,1)">18395.0</text>
<text transform="translate(1459.2,572) scale(1.019,1)">18065.0</text>
<text transform="translate(1459.2,93) scale(1.019,1)" fill="#fff">20500.0</text>
<text transform="translate(1459.2,152) scale(1.019,1)" fill="#fff">20193.5</text>
<text transform="translate(1459.2,189) scale(1.019,1)" fill="#fff">20014.7</text>
<text transform="translate(1459.2,251) scale(1.019,1)" fill="#fff">19700.0</text>
</g></svg>
</body></html>
